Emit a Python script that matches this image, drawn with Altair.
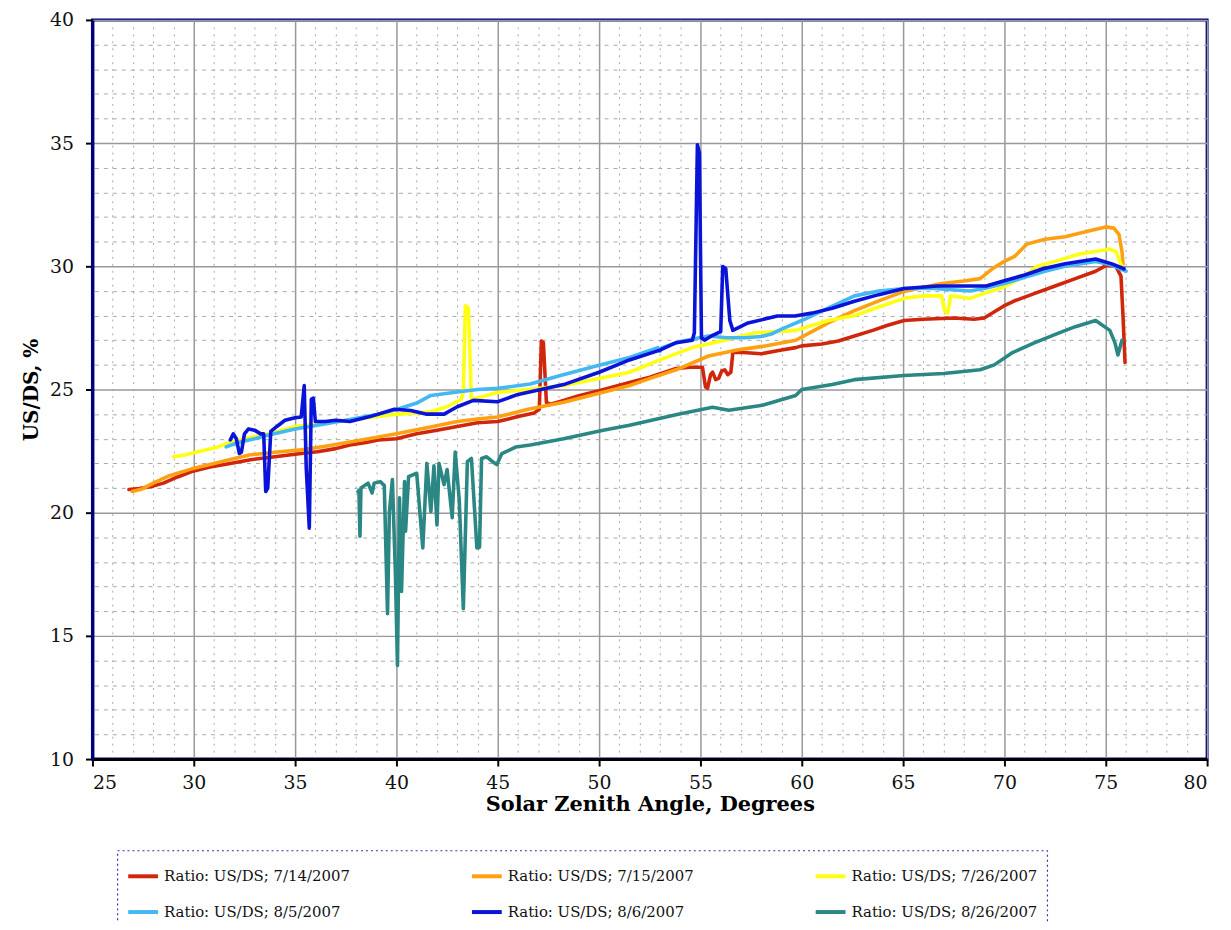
import altair as alt
import pandas as pd

SERIES = [
    "Ratio: US/DS; 7/14/2007",
    "Ratio: US/DS; 7/15/2007",
    "Ratio: US/DS; 7/26/2007",
    "Ratio: US/DS; 8/5/2007",
    "Ratio: US/DS; 8/6/2007",
    "Ratio: US/DS; 8/26/2007",
]
COLORS = ["#d0260c", "#ffa010", "#ffff14", "#44b8f2", "#0a14d8", "#2b8784"]

red_0714 = [(26.8, 20.94), (27.3, 20.98), (27.9, 21.06), (28.5, 21.2), (29.2, 21.45), (29.9, 21.67),
            (30.8, 21.85), (31.8, 22.0), (32.8, 22.15), (33.8, 22.25), (34.8, 22.35), (35.5, 22.42),
            (36.1, 22.47), (37.0, 22.6), (37.7, 22.75), (38.5, 22.85), (39.1, 22.95), (40.0, 23.0),
            (41.0, 23.2), (42.0, 23.35), (43.0, 23.5), (44.0, 23.65), (45.0, 23.7), (46.0, 23.9),
            (46.8, 24.05), (47.05, 24.2), (47.15, 26.97), (47.25, 26.9), (47.4, 24.48), (47.6, 24.4),
            (48.25, 24.56), (49.0, 24.75), (50.0, 24.95), (51.5, 25.28), (52.5, 25.5), (53.8, 25.85),
            (54.5, 25.9), (55.1, 25.9), (55.25, 25.1), (55.35, 25.05), (55.5, 25.6), (55.6, 25.7),
            (55.75, 25.4), (55.9, 25.45), (56.05, 25.75), (56.2, 25.8), (56.35, 25.6), (56.5, 25.7),
            (56.6, 26.5), (57.1, 26.5), (58.0, 26.45), (59.0, 26.6), (59.7, 26.7), (60.0, 26.77),
            (61.0, 26.85), (61.8, 26.97), (62.6, 27.17), (63.5, 27.4), (64.2, 27.6), (65.05, 27.8),
            (66.0, 27.85), (67.5, 27.9), (68.5, 27.85), (69.0, 27.9), (69.95, 28.38), (70.5, 28.6),
            (71.5, 28.9), (72.5, 29.2), (73.5, 29.5), (74.5, 29.8), (75.0, 30.03), (75.5, 30.0),
            (75.75, 29.6), (75.85, 28.0), (75.95, 26.1)]

orange_0715 = [(26.96, 20.86), (27.4, 20.95), (28.0, 21.2), (28.8, 21.5), (29.9, 21.78), (31.0, 22.0),
               (32.0, 22.2), (32.8, 22.35), (34.0, 22.45), (35.3, 22.55), (36.5, 22.7), (37.7, 22.87),
               (39.1, 23.07), (40.0, 23.2), (41.5, 23.45), (43.0, 23.7), (44.0, 23.8), (44.97, 23.88),
               (46.5, 24.2), (48.25, 24.48), (50.0, 24.85), (51.5, 25.16), (52.7, 25.5), (53.8, 25.8),
               (55.4, 26.36), (56.8, 26.6), (58.06, 26.75), (59.7, 27.0), (60.5, 27.35), (61.3, 27.7),
               (62.6, 28.2), (63.8, 28.6), (65.05, 28.98), (66.0, 29.15), (66.9, 29.3), (68.0, 29.4),
               (68.8, 29.5), (69.4, 29.9), (69.95, 30.18), (70.5, 30.4), (71.1, 30.9), (72.0, 31.1),
               (73.0, 31.2), (74.0, 31.4), (75.0, 31.6), (75.4, 31.55), (75.65, 31.3), (75.8, 30.6),
               (75.85, 30.1)]

yellow_0726 = [(29.0, 22.27), (29.6, 22.35), (30.2, 22.47), (31.2, 22.67), (31.6, 22.8), (32.5, 23.0),
               (33.7, 23.2), (35.0, 23.5), (36.1, 23.6), (37.5, 23.75), (39.0, 23.9), (40.0, 24.0),
               (41.0, 24.05), (41.7, 24.1), (42.5, 24.3), (43.2, 24.6), (43.3, 24.9), (43.4, 28.4),
               (43.55, 28.3), (43.7, 24.6), (44.2, 24.7), (44.97, 24.88), (46.5, 25.0), (48.25, 25.16),
               (50.0, 25.45), (51.5, 25.7), (53.0, 26.2), (54.6, 26.7), (56.2, 27.0), (57.7, 27.3),
               (59.7, 27.4), (60.5, 27.6), (61.3, 27.8), (62.6, 28.0), (63.8, 28.35), (65.05, 28.7),
               (66.0, 28.8), (66.9, 28.8), (67.05, 28.2), (67.2, 28.1), (67.35, 28.8), (68.3, 28.7),
               (69.0, 28.9), (69.95, 29.15), (71.0, 29.6), (71.6, 30.0), (72.5, 30.2), (73.7, 30.5),
               (74.5, 30.6), (75.2, 30.7), (75.5, 30.6), (75.8, 30.0)]

lightblue_0805 = [(31.6, 22.67), (32.2, 22.85), (33.0, 23.0), (33.7, 23.15), (35.0, 23.4), (36.1, 23.55),
                  (37.5, 23.75), (39.1, 24.0), (40.05, 24.2), (41.0, 24.45), (41.7, 24.76), (43.0, 24.9),
                  (44.0, 25.0), (45.0, 25.05), (46.6, 25.22), (48.0, 25.55), (49.9, 25.96), (51.5, 26.3),
                  (52.9, 26.7), (53.0, 26.55), (53.1, 26.7), (54.0, 26.95), (55.4, 27.17), (56.3, 27.1),
                  (57.2, 27.1), (58.0, 27.15), (58.5, 27.25), (59.0, 27.45), (60.0, 27.8), (61.3, 28.3),
                  (62.6, 28.8), (63.8, 29.0), (65.05, 29.1), (66.5, 29.1), (68.3, 29.0), (69.0, 29.1),
                  (70.0, 29.3), (71.0, 29.55), (72.0, 29.8), (73.0, 30.0), (74.5, 30.2), (75.3, 30.05),
                  (76.0, 29.8)]

blue_0806 = [(31.8, 22.95), (31.95, 23.2), (32.1, 23.0), (32.25, 22.4), (32.35, 22.45), (32.5, 23.2),
             (32.7, 23.4), (33.0, 23.35), (33.3, 23.2), (33.45, 23.2), (33.55, 20.86), (33.65, 21.0),
             (33.8, 23.3), (34.1, 23.5), (34.5, 23.75), (35.0, 23.85), (35.3, 23.88), (35.45, 25.16),
             (35.55, 21.8), (35.7, 19.37), (35.8, 24.6), (35.9, 24.65), (36.0, 23.7), (36.5, 23.7),
             (37.0, 23.75), (37.7, 23.7), (38.7, 23.9), (39.9, 24.2), (40.7, 24.15), (41.5, 24.0),
             (42.35, 24.0), (43.0, 24.3), (43.8, 24.56), (44.97, 24.5), (46.0, 24.8), (48.25, 25.2),
             (50.0, 25.7), (51.5, 26.2), (53.0, 26.6), (53.8, 26.9), (54.6, 27.0), (54.7, 27.3),
             (54.85, 34.93), (54.95, 34.6), (55.05, 27.1), (55.2, 27.0), (55.6, 27.2), (56.0, 27.35),
             (56.1, 29.99), (56.25, 29.9), (56.45, 27.8), (56.6, 27.4), (57.35, 27.7), (58.8, 27.98),
             (59.66, 27.98), (60.5, 28.1), (61.5, 28.3), (62.6, 28.58), (63.8, 28.85), (65.05, 29.1),
             (66.7, 29.2), (68.3, 29.2), (69.1, 29.2), (69.95, 29.4), (71.0, 29.65), (71.9, 29.9),
             (73.0, 30.1), (74.5, 30.3), (75.3, 30.1), (75.9, 29.9)]

teal_0826 = [(38.1, 20.86), (38.15, 20.9), (38.2, 19.05), (38.25, 21.0), (38.6, 21.2), (38.8, 20.8),
             (38.9, 21.2), (39.2, 21.26), (39.4, 21.1), (39.56, 15.9), (39.65, 20.0), (39.8, 21.35),
             (39.95, 17.5), (40.05, 13.8), (40.15, 20.6), (40.25, 16.8), (40.4, 21.26), (40.45, 19.25),
             (40.6, 21.46), (41.0, 21.6), (41.3, 18.57), (41.5, 22.0), (41.7, 20.05), (41.85, 21.9),
             (42.0, 19.5), (42.1, 22.0), (42.35, 21.14), (42.5, 21.75), (42.75, 19.8), (42.9, 22.46),
             (43.1, 20.5), (43.3, 16.1), (43.5, 22.07), (43.7, 22.2), (43.97, 18.57), (44.1, 18.6),
             (44.2, 22.2), (44.45, 22.27), (44.7, 22.1), (44.95, 21.95), (45.2, 22.4), (45.6, 22.55),
             (45.9, 22.67), (46.6, 22.75), (48.25, 23.0), (50.2, 23.35), (51.5, 23.55), (53.9, 24.0),
             (55.6, 24.28), (56.4, 24.16), (58.06, 24.36), (59.7, 24.76), (60.0, 25.0), (61.5, 25.2),
             (62.6, 25.4), (65.05, 25.57), (67.0, 25.65), (68.8, 25.8), (69.5, 26.0), (70.4, 26.5),
             (71.5, 26.9), (72.7, 27.3), (73.5, 27.55), (74.5, 27.8), (75.2, 27.4), (75.45, 26.9),
             (75.6, 26.4), (75.8, 27.0)]

ALL = [red_0714, orange_0715, yellow_0726, lightblue_0805, blue_0806, teal_0826]

rows = []
for name, pts in zip(SERIES, ALL):
    for i, (x, y) in enumerate(pts):
        rows.append({"series": name, "sza": x, "ratio": y, "idx": i})
df = pd.DataFrame(rows)

X_MAJOR = [25, 30, 35, 40, 45, 50, 55, 60, 65, 70, 75, 80]
Y_MAJOR = [10, 15, 20, 25, 30, 35, 40]
X_MINOR = [v for v in range(25, 81) if v % 5]
Y_MINOR = [v for v in range(10, 41) if v % 5]

FONT = "DejaVu Serif"
xscale = alt.Scale(domain=[25, 80], nice=False, zero=False)
yscale = alt.Scale(domain=[10, 40], nice=False, zero=False)

base = alt.Chart(df)

minor = base.mark_line(strokeOpacity=0).encode(
    x=alt.X("sza:Q", scale=xscale, axis=alt.Axis(
        orient="top", values=X_MINOR, grid=True, gridColor="#a8a8a8", gridDash=[2, 5],
        gridWidth=1, labels=False, ticks=False, domain=False, title=None)),
    y=alt.Y("ratio:Q", scale=yscale, axis=alt.Axis(
        orient="right", values=Y_MINOR, grid=True, gridColor="#a8a8a8", gridDash=[4, 5],
        gridWidth=1, labels=False, ticks=False, domain=False, title=None)),
    detail="series:N",
)

lines = base.mark_line(strokeWidth=3.6, strokeJoin="round", strokeCap="round").encode(
    x=alt.X("sza:Q", scale=xscale, axis=alt.Axis(
        orient="bottom", values=X_MAJOR, grid=True, gridColor="#999999", gridWidth=1.5,
        domainColor="#000000", domainWidth=3, tickColor="#000000", tickWidth=2, tickSize=7,
        labelFont=FONT, labelFontSize=19, labelColor="#111111", labelPadding=8,
        title="Solar Zenith Angle, Degrees", titleFont=FONT, titleFontSize=21,
        titleFontWeight="bold", titleColor="#000000", titlePadding=1)),
    y=alt.Y("ratio:Q", scale=yscale, axis=alt.Axis(
        orient="left", values=Y_MAJOR, grid=True, gridColor="#999999", gridWidth=1.5,
        domainColor="#00007f", domainWidth=3, tickColor="#000000", tickWidth=2, tickSize=7,
        labelFont=FONT, labelFontSize=19, labelColor="#111111", labelPadding=12,
        title="US/DS, %", titleFont=FONT, titleFontSize=20, titleFontWeight="bold",
        titleColor="#000000", titlePadding=8)),
    color=alt.Color("series:N", scale=alt.Scale(domain=SERIES, range=COLORS), legend=alt.Legend(
        title=None, orient="none", legendX=25, legendY=836, columns=3, direction="horizontal",
        columnPadding=114, rowPadding=11, padding=9, symbolType="stroke", symbolSize=900,
        symbolStrokeWidth=4, labelFont=FONT, labelFontSize=15, labelColor="#111111",
        labelOffset=4, labelLimit=400, strokeColor="#3030b0")),
    order=alt.Order("idx:Q"),
)

chart = alt.layer(minor, lines).resolve_axis(x="independent", y="independent").properties(
    width=1122, height=744,
    autosize=alt.AutoSizeParams(type="none"),
    padding={"left": 85, "top": 9, "right": 16, "bottom": 162},
).configure_view(stroke="#00007f", strokeWidth=3).configure_legend(strokeDash=[2, 3], strokeWidth=1.2)

chart.save("out.html", embed_options={"renderer": "svg", "actions": False})
